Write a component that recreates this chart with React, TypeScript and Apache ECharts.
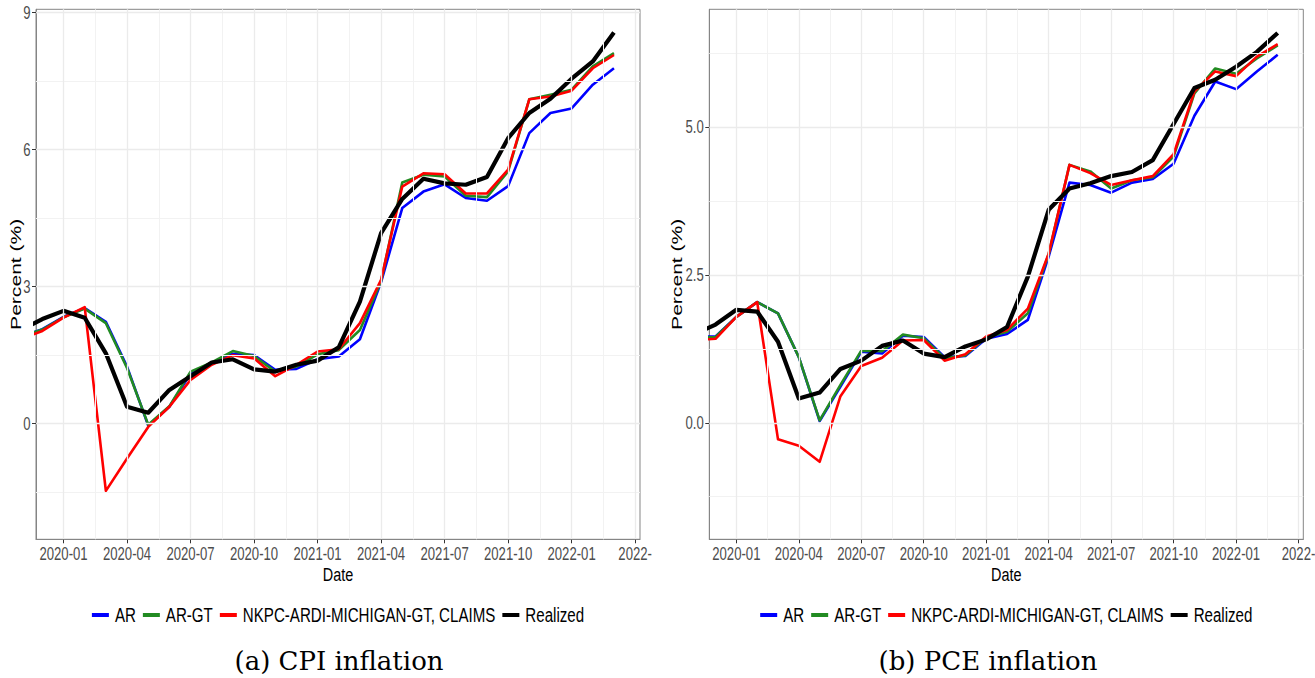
import React, { useEffect, useRef } from 'react';
import * as echarts from 'echarts';

// ---------- data ----------
const DATES = [
  '2019-11', '2019-12',
  '2020-01', '2020-02', '2020-03', '2020-04', '2020-05', '2020-06',
  '2020-07', '2020-08', '2020-09', '2020-10', '2020-11', '2020-12',
  '2021-01', '2021-02', '2021-03', '2021-04', '2021-05', '2021-06',
  '2021-07', '2021-08', '2021-09', '2021-10', '2021-11', '2021-12',
  '2022-01', '2022-02', '2022-03',
];

const SERIES_NAMES = ['AR', 'AR-GT', 'NKPC-ARDI-MICHIGAN-GT, CLAIMS', 'Realized'];

// CPI inflation (panel a)
const CPI_AR = [1.90, 2.07, 2.34, 2.53, 2.23, 1.25, -0.04, 0.37, 1.09, 1.32, 1.53, 1.50, 1.18, 1.20, 1.41, 1.47, 1.85, 3.10, 4.72, 5.08, 5.24, 4.94, 4.88, 5.20, 6.36, 6.80, 6.90, 7.42, 7.78];
const CPI_ARGT = [1.90, 2.06, 2.33, 2.52, 2.20, 1.22, -0.02, 0.38, 1.14, 1.34, 1.59, 1.48, 1.14, 1.25, 1.52, 1.61, 2.05, 3.12, 5.28, 5.45, 5.41, 4.99, 4.96, 5.52, 7.10, 7.20, 7.31, 7.82, 8.11];
const CPI_NKPC = [1.85, 2.03, 2.32, 2.55, -1.47, -0.76, -0.07, 0.37, 0.96, 1.29, 1.50, 1.43, 1.04, 1.29, 1.58, 1.63, 2.20, 3.15, 5.19, 5.48, 5.46, 5.04, 5.04, 5.56, 7.10, 7.16, 7.29, 7.78, 8.07];
const CPI_REALIZED = [2.05, 2.29, 2.47, 2.32, 1.54, 0.37, 0.24, 0.74, 1.04, 1.34, 1.41, 1.19, 1.14, 1.29, 1.38, 1.67, 2.67, 4.17, 4.92, 5.36, 5.26, 5.23, 5.40, 6.25, 6.80, 7.11, 7.55, 7.93, 8.56];

// PCE inflation (panel b)
const PCE_AR = [1.45, 1.46, 1.79, 2.04, 1.85, 1.11, 0.03, 0.61, 1.20, 1.17, 1.47, 1.45, 1.11, 1.13, 1.42, 1.50, 1.74, 2.81, 4.06, 4.02, 3.89, 4.06, 4.12, 4.38, 5.19, 5.77, 5.64, 5.94, 6.22];
const PCE_ARGT = [1.44, 1.45, 1.79, 2.04, 1.85, 1.11, 0.04, 0.64, 1.22, 1.21, 1.49, 1.43, 1.09, 1.14, 1.44, 1.54, 1.85, 2.85, 4.36, 4.25, 3.96, 4.10, 4.15, 4.50, 5.57, 5.99, 5.90, 6.16, 6.38];
const PCE_NKPC = [1.40, 1.42, 1.79, 2.04, -0.28, -0.39, -0.66, 0.45, 0.96, 1.10, 1.39, 1.40, 1.05, 1.16, 1.46, 1.57, 1.93, 2.86, 4.36, 4.22, 4.02, 4.10, 4.17, 4.54, 5.60, 5.94, 5.86, 6.19, 6.40];
const PCE_REALIZED = [1.50, 1.66, 1.91, 1.88, 1.37, 0.41, 0.51, 0.91, 1.05, 1.30, 1.39, 1.17, 1.11, 1.29, 1.41, 1.62, 2.47, 3.60, 3.96, 4.05, 4.17, 4.24, 4.44, 5.05, 5.66, 5.80, 6.02, 6.27, 6.59];

// x-axis ticks (quarter starts) and their labels (last one is cut off in the original)
const X_TICK_DATES = ['2020-01', '2020-04', '2020-07', '2020-10', '2021-01', '2021-04', '2021-07', '2021-10', '2022-01', '2022-04'];
const X_TICK_LABELS = ['2020-01', '2020-04', '2020-07', '2020-10', '2021-01', '2021-04', '2021-07', '2021-10', '2022-01', '2022-'];

// y-axis ticks
const CPI_Y_TICKS = [0, 3, 6, 9];
const CPI_Y_MINOR = [-1.5, 1.5, 4.5, 7.5];
const PCE_Y_TICKS = [0, 2.5, 5.0];
const PCE_Y_MINOR = [-1.25, 1.25, 3.75, 6.25];

const CAPTIONS = ['(a) CPI inflation', '(b) PCE inflation'];
const X_TITLE = 'Date';
const Y_TITLE = 'Percent (%)';

// ---------- helpers / styles ----------
const toMonth = (d: string) => {
  const [y, m] = d.split('-').map(Number);
  return (y - 2020) * 12 + (m - 1);
};

const COLORS = ['#0000FF', '#228B22', '#FF0000', '#000000'];
const WIDTHS = [2.6, 2.6, 2.6, 4.2];
const SANS = '"Liberation Sans", Arial, sans-serif';
const BORDER = '#858585';
const GRID_MAJOR = '#EBEBEB';
const GRID_MINOR = '#F2F2F2';

const TICK_FONT_SIZE = 18;
const TICK_SCALE = 0.73;
const LEGEND_FONT_SIZE = 20;
const LEGEND_SCALE = 0.755;

const X_MIN = -1.3;
const X_MAX = 27.23;

const xTickVals = X_TICK_DATES.map(toMonth);
const xMinorVals = xTickVals.slice(0, -1).map((v) => v + 1.5);

const panels = [
  {
    grid: { left: 36, top: 9.3, width: 604, height: 530 },
    yMin: -2.53, yMax: 9.07, yTicks: CPI_Y_TICKS, yMinor: CPI_Y_MINOR, digits: 0,
    data: [CPI_AR, CPI_ARGT, CPI_NKPC, CPI_REALIZED],
    titleX: 15.3, captionX: 339,
  },
  {
    grid: { left: 709.3, top: 9.3, width: 594, height: 530 },
    yMin: -1.97, yMax: 6.99, yTicks: PCE_Y_TICKS, yMinor: PCE_Y_MINOR, digits: 1,
    data: [PCE_AR, PCE_ARGT, PCE_NKPC, PCE_REALIZED],
    titleX: 677, captionX: 988,
  },
];

function buildOption() {
  const grid: any[] = [];
  const xAxis: any[] = [];
  const yAxis: any[] = [];
  const series: any[] = [];

  panels.forEach((p, i) => {
    grid.push({ ...p.grid, show: true, borderColor: BORDER, borderWidth: 1, backgroundColor: '#FFFFFF' });

    xAxis.push({
      type: 'value', gridIndex: i, min: X_MIN, max: X_MAX,
      splitLine: { show: false },
      axisLine: { show: true, onZero: false, lineStyle: { color: BORDER, width: 1 } },
      axisTick: { show: true, length: 4, lineStyle: { color: '#333333' }, customValues: xTickVals },
      axisLabel: { show: false },
    });

    yAxis.push({
      type: 'value', gridIndex: i, min: p.yMin, max: p.yMax,
      splitLine: { show: false },
      axisLine: { show: true, onZero: false, lineStyle: { color: BORDER, width: 1 } },
      axisTick: { show: true, length: 4, lineStyle: { color: '#333333' }, customValues: p.yTicks },
      axisLabel: { show: false },
    });

    const gridLines: any[] = [];
    xMinorVals.forEach((v) => gridLines.push({ xAxis: v, lineStyle: { color: GRID_MINOR, width: 1, type: 'solid' } }));
    p.yMinor.forEach((v) => gridLines.push({ yAxis: v, lineStyle: { color: GRID_MINOR, width: 1, type: 'solid' } }));
    xTickVals.forEach((v) => gridLines.push({ xAxis: v, lineStyle: { color: GRID_MAJOR, width: 1.3, type: 'solid' } }));
    p.yTicks.forEach((v) => gridLines.push({ yAxis: v, lineStyle: { color: GRID_MAJOR, width: 1.3, type: 'solid' } }));

    series.push({
      type: 'line', name: '__grid' + i, xAxisIndex: i, yAxisIndex: i, data: [], silent: true, z: 1,
      markLine: {
        silent: true, symbol: ['none', 'none'], label: { show: false },
        emphasis: { disabled: true }, animation: false, data: gridLines,
      },
    });

    SERIES_NAMES.forEach((name, s) => {
      series.push({
        name, type: 'line', xAxisIndex: i, yAxisIndex: i, z: 2,
        data: DATES.map((d, k) => [toMonth(d), p.data[s][k]]),
        showSymbol: false, symbol: 'none', silent: true, clip: true,
        color: COLORS[s],
        lineStyle: { color: COLORS[s], width: WIDTHS[s], join: 'round', cap: 'butt' },
        emphasis: { disabled: true },
      });
    });
  });

  return { animation: false, backgroundColor: '#FFFFFF', grid, xAxis, yAxis, series };
}

function textEl(text: string, x: number, y: number, size: number, fill: string, align: string, vAlign: string, scaleX = 1, extra: any = {}) {
  return {
    type: 'text', x, y, scaleX, silent: true, ...extra,
    style: { text, font: `${size}px ${SANS}`, fill, align, verticalAlign: vAlign },
  };
}

function buildOverlay(chart: any) {
  const ctx = document.createElement('canvas').getContext('2d') as CanvasRenderingContext2D;
  const measure = (t: string, size: number) => {
    ctx.font = `${size}px ${SANS}`;
    return ctx.measureText(t).width;
  };
  const g: any[] = [];

  panels.forEach((p, i) => {
    const finder = { xAxisIndex: i, yAxisIndex: i };
    const [left, bottom] = chart.convertToPixel(finder, [X_MIN, p.yMin]);
    const [right, top] = chart.convertToPixel(finder, [X_MAX, p.yMax]);
    const cx = (left + right) / 2;

    // x tick labels
    xTickVals.forEach((v, k) => {
      const [px] = chart.convertToPixel(finder, [v, p.yMin]);
      g.push(textEl(X_TICK_LABELS[k], px, bottom + 14.5, TICK_FONT_SIZE, '#4D4D4D', 'center', 'middle', TICK_SCALE));
    });
    // y tick labels
    p.yTicks.forEach((v) => {
      const [, py] = chart.convertToPixel(finder, [X_MIN, v]);
      g.push(textEl(v.toFixed(p.digits), left - 5.5, py, TICK_FONT_SIZE, '#4D4D4D', 'right', 'middle', TICK_SCALE));
    });
    // axis titles
    g.push(textEl(X_TITLE, cx, bottom + 36, 19, '#000000', 'center', 'middle', 0.76));
    g.push(textEl(Y_TITLE, p.titleX, (top + bottom) / 2, 15.5, '#000000', 'center', 'middle', 1.36, { rotation: Math.PI / 2 }));

    // legend
    const segW = 17;
    const segGap = 6;
    const itemGap = 7;
    const widths = SERIES_NAMES.map((n) => measure(n, LEGEND_FONT_SIZE) * LEGEND_SCALE);
    const total = widths.reduce((a, w) => a + segW + segGap + w, 0) + itemGap * (SERIES_NAMES.length - 1);
    let x = cx - total / 2;
    const ly = 615;
    SERIES_NAMES.forEach((n, s) => {
      g.push({
        type: 'line', silent: true,
        shape: { x1: x, y1: ly, x2: x + segW, y2: ly },
        style: { stroke: COLORS[s], lineWidth: 4 },
      });
      x += segW + segGap;
      g.push(textEl(n, x, ly, LEGEND_FONT_SIZE, '#000000', 'left', 'middle', LEGEND_SCALE));
      x += widths[s] + itemGap;
    });

    // caption
    g.push({
      type: 'text', x: p.captionX, y: 661, silent: true,
      style: { text: CAPTIONS[i], font: '26px "DejaVu Serif", serif', fill: '#000000', align: 'center', verticalAlign: 'middle' },
    });
  });
  return g;
}

export default function App() {
  const ref = useRef<HTMLDivElement>(null);
  useEffect(() => {
    if (!ref.current) return;
    const chart = echarts.init(ref.current, undefined, { renderer: 'svg' });
    chart.setOption(buildOption() as any);
    chart.setOption({ graphic: buildOverlay(chart) } as any);
    return () => chart.dispose();
  }, []);
  return (
    <div
      ref={ref}
      style={{ position: 'absolute', left: 0, top: 0, width: 1315, height: 678, background: '#FFFFFF' }}
    />
  );
}
